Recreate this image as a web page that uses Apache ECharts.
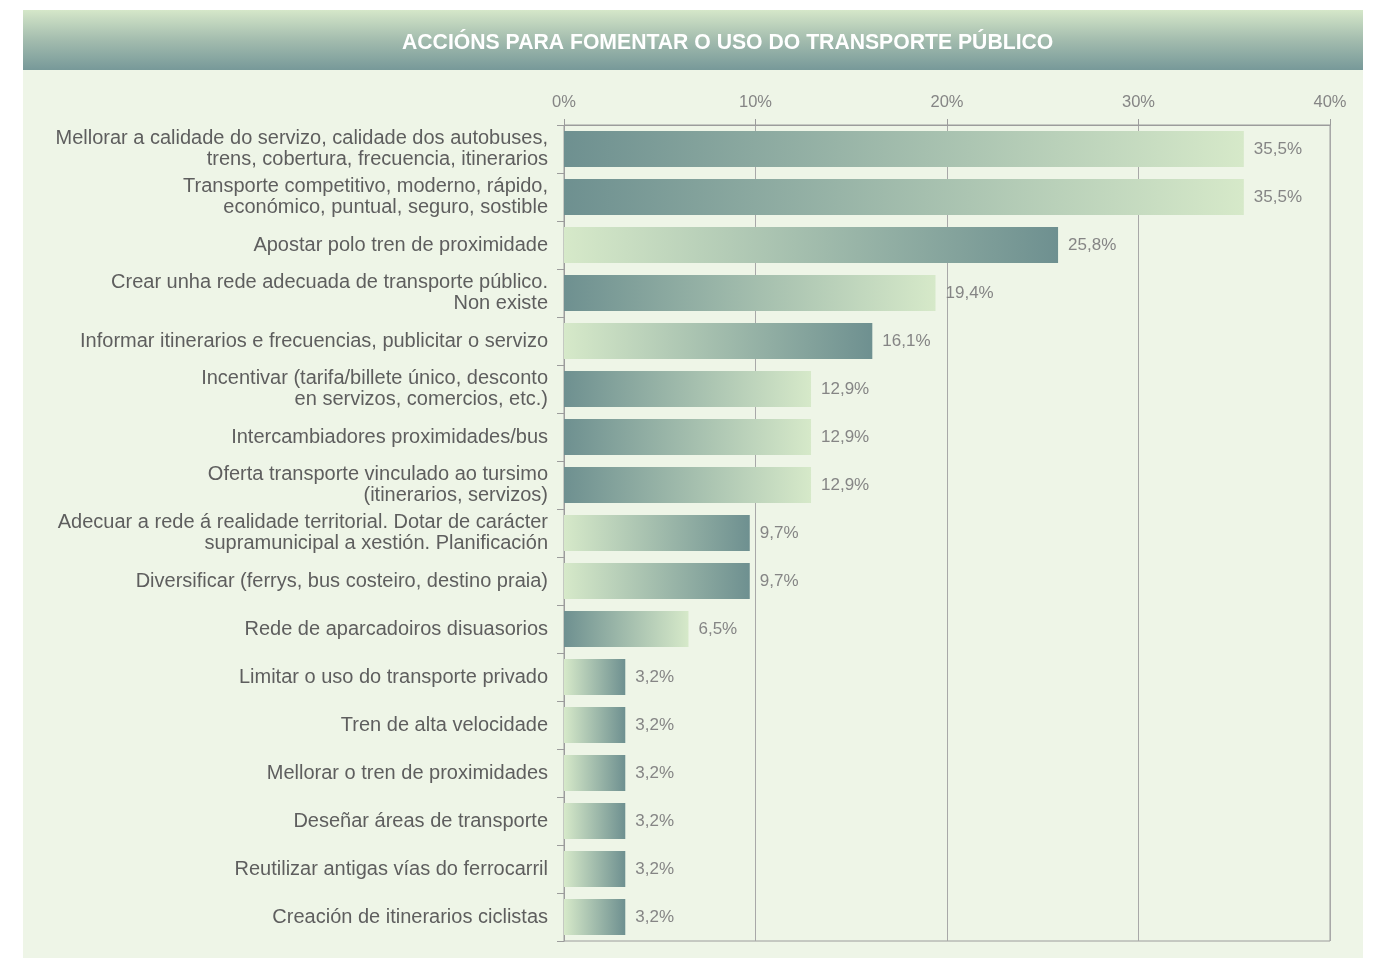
<!DOCTYPE html>
<html>
<head>
<meta charset="utf-8">
<script src="https://cdn.jsdelivr.net/npm/echarts@6/dist/echarts.min.js"></script>
<style>
  html, body { margin: 0; padding: 0; background: #ffffff; }
  #chart { width: 1374px; height: 958px; }
</style>
</head>
<body>
<div id="chart"></div>
<script>
// categories, top to bottom
const categories = [
  'Mellorar a calidade do servizo, calidade dos autobuses,\ntrens, cobertura, frecuencia, itinerarios',
  'Transporte competitivo, moderno, rápido,\neconómico, puntual, seguro, sostible',
  'Apostar polo tren de proximidade',
  'Crear unha rede adecuada de transporte público.\nNon existe',
  'Informar itinerarios e frecuencias, publicitar o servizo',
  'Incentivar (tarifa/billete único, desconto\nen servizos, comercios, etc.)',
  'Intercambiadores proximidades/bus',
  'Oferta transporte vinculado ao tursimo\n(itinerarios, servizos)',
  'Adecuar a rede á realidade territorial. Dotar de carácter\nsupramunicipal a xestión. Planificación',
  'Diversificar (ferrys, bus costeiro, destino praia)',
  'Rede de aparcadoiros disuasorios',
  'Limitar o uso do transporte privado',
  'Tren de alta velocidade',
  'Mellorar o tren de proximidades',
  'Deseñar áreas de transporte',
  'Reutilizar antigas vías do ferrocarril',
  'Creación de itinerarios ciclistas'
]
const values = [35.5, 35.5, 25.8, 19.4, 16.1, 12.9, 12.9, 12.9, 9.7, 9.7, 6.5, 3.2, 3.2, 3.2, 3.2, 3.2, 3.2]
const xTicks = [0, 10, 20, 30, 40]

const chartTitle = 'ACCIÓNS PARA FOMENTAR O USO DO TRANSPORTE PÚBLICO'

// style: which bars fade light -> dark instead of dark -> light
const lightFirst = [false, false, true, false, true, false, false, false, true, true, false, true, true, true, true, true, true]

const DARK = '#6e9090'
const LIGHT = '#d6e9c9'

const barGradient = (flip) => new echarts.graphic.LinearGradient(0, 0, 1, 0, [
  { offset: 0, color: flip ? LIGHT : DARK },
  { offset: 1, color: flip ? DARK : LIGHT }
])

const chart = echarts.init(document.getElementById('chart'))

const option = {
  backgroundColor: '#ffffff',
  animation: false,
  textStyle: { fontFamily: '"Liberation Sans", Arial, sans-serif' },
  graphic: [
    {
      type: 'rect',
      z: -10,
      shape: { x: 23, y: 10, width: 1340, height: 948 },
      style: { fill: '#eef5e7' }
    },
    {
      type: 'rect',
      z: -9,
      shape: { x: 23, y: 10, width: 1340, height: 60 },
      style: {
        fill: new echarts.graphic.LinearGradient(0, 0, 0, 1, [
          { offset: 0, color: '#d5e7c9' },
          { offset: 0.5, color: '#a3bcae' },
          { offset: 1, color: '#779999' }
        ])
      }
    }
  ],
  title: {
    text: chartTitle,
    left: 397,
    top: 28,
    textStyle: {
      color: '#ffffff',
      fontSize: 21.2,
      fontWeight: 'bold',
      fontFamily: '"Liberation Sans", Arial, sans-serif'
    }
  },
  grid: {
    left: 564,
    right: 44,
    top: 125,
    bottom: 17,
    show: true,
    borderColor: '#9c9c9c',
    borderWidth: 1,
    backgroundColor: 'transparent'
  },
  xAxis: {
    type: 'value',
    position: 'top',
    min: xTicks[0],
    max: xTicks[xTicks.length - 1],
    interval: 10,
    axisLine: { show: true, lineStyle: { color: '#9c9c9c' } },
    axisTick: { show: true, length: 6, lineStyle: { color: '#9c9c9c' } },
    axisLabel: {
      color: '#858585',
      fontSize: 16.5,
      margin: 14,
      formatter: (v) => v + '%'
    },
    splitLine: { show: true, lineStyle: { color: '#a8a8a8', width: 1 } }
  },
  yAxis: {
    type: 'category',
    inverse: true,
    data: categories,
    axisLine: { show: true, lineStyle: { color: '#9c9c9c' } },
    axisTick: { show: true, length: 7, lineStyle: { color: '#9c9c9c' } },
    axisLabel: {
      color: '#5e5e5e',
      fontSize: 20,
      lineHeight: 21,
      margin: 16,
      align: 'right',
      padding: [5, 0, 0, 0]
    }
  },
  series: [
    {
      type: 'bar',
      barCategoryGap: '25%',
      data: values.map((v, i) => ({
        value: v,
        itemStyle: { color: barGradient(lightFirst[i]) }
      })),
      label: {
        show: true,
        position: 'right',
        distance: 10,
        color: '#858585',
        fontSize: 17,
        formatter: (p) => p.value.toFixed(1).replace('.', ',') + '%'
      }
    }
  ]
}

chart.setOption(option)
</script>
</body>
</html>
